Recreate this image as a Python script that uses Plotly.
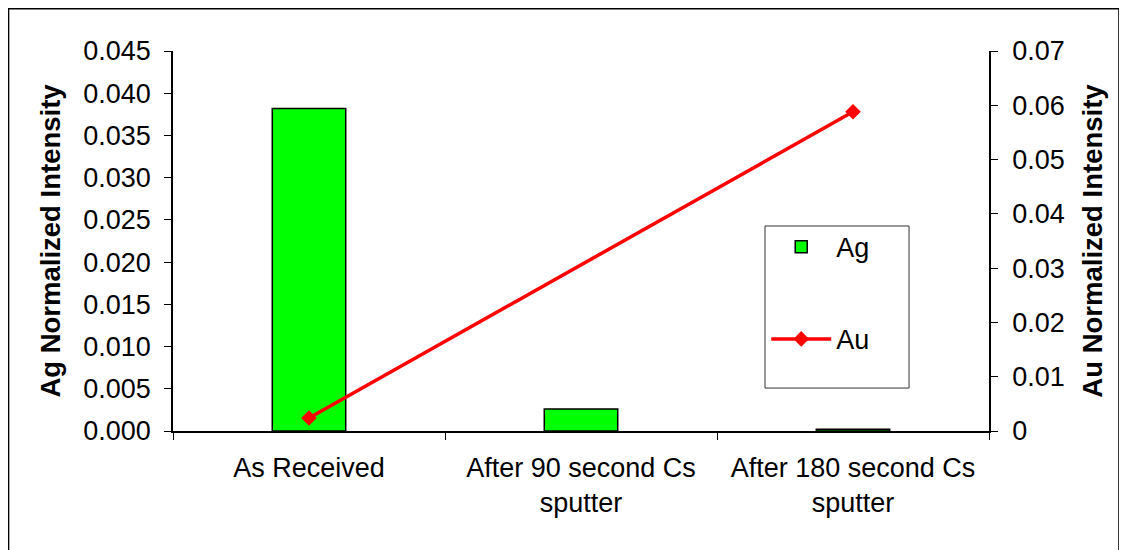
import plotly.graph_objects as go

categories = ["As Received", "After 90 second Cs<br>sputter", "After 180 second Cs<br>sputter"]
ag_values = [0.0382, 0.0026, 0.0002]
au_cats = [categories[0], categories[2]]
au_vals = [0.0024, 0.0588]
ag_ticks = [0, 0.005, 0.010, 0.015, 0.020, 0.025, 0.030, 0.035, 0.040, 0.045]
ag_ticktext = ["0.000", "0.005", "0.010", "0.015", "0.020", "0.025", "0.030", "0.035", "0.040", "0.045"]
au_ticks = [0, 0.01, 0.02, 0.03, 0.04, 0.05, 0.06, 0.07]
au_ticktext = ["0", "0.01", "0.02", "0.03", "0.04", "0.05", "0.06", "0.07"]

FONT = "Liberation Sans, Arial, sans-serif"

fig = go.Figure()
fig.add_trace(go.Bar(
    x=categories, y=ag_values, name="Ag", legendgroup="ag",
    marker=dict(color="#00ff00", line=dict(color="black", width=1.5)),
    yaxis="y",
))
fig.add_trace(go.Scatter(
    x=au_cats, y=au_vals, name="Au", mode="lines+markers", legendgroup="au",
    line=dict(color="#ff0000", width=3.5),
    marker=dict(symbol="diamond", size=12, color="#ff0000"),
    yaxis="y2",
))

fig.update_layout(
    width=1119, height=542,
    margin=dict(l=165, r=138, t=43, b=119, autoexpand=False),
    paper_bgcolor="white", plot_bgcolor="white",
    font=dict(family=FONT, size=27, color="black"),
    bargap=0.73,
    showlegend=True,
    legend=dict(
        x=0.727, y=0.548, xanchor="left", yanchor="top",
        borderwidth=0, bgcolor="rgba(0,0,0,0)",
        font=dict(size=27), tracegroupgap=54, itemwidth=60,
    ),
    xaxis=dict(
        type="category", showline=True, linecolor="black", linewidth=1.5,
        ticks="outside", tickson="boundaries", ticklen=7, tickcolor="black",
        showgrid=False, tickfont=dict(size=27), automargin=False,
        ticklabelstandoff=12,
    ),
    yaxis=dict(
        range=[0, 0.045], tickvals=ag_ticks, ticktext=ag_ticktext,
        showline=True, linecolor="black", linewidth=1.5, automargin=False,
        ticks="outside", ticklen=7, tickcolor="black", showgrid=False, zeroline=False,
        ticklabelstandoff=8,
        title=dict(text="<b>Ag Normalized Intensity</b>", font=dict(size=27.5), standoff=15),
    ),
    yaxis2=dict(
        range=[0, 0.07], tickvals=au_ticks, ticktext=au_ticktext,
        overlaying="y", side="right", automargin=False,
        showline=True, linecolor="black", linewidth=1.5,
        ticks="outside", ticklen=7, tickcolor="black", showgrid=False, zeroline=False,
        ticklabelstandoff=9,
        title=dict(text="<b>Au Normalized Intensity</b>", font=dict(size=27.5), standoff=19),
    ),
    shapes=[
        dict(type="rect", xref="paper", yref="paper",
             x0=-0.2015, x1=1.1593, y0=-0.33, y1=1.111,
             line=dict(color="black", width=1.5), layer="below"),
        dict(type="rect", xref="paper", yref="paper",
             x0=0.7255, x1=0.902, y0=0.113, y1=0.5395,
             line=dict(color="#333333", width=1), fillcolor="white", layer="below"),
    ],
)

fig.write_html("out.html")
